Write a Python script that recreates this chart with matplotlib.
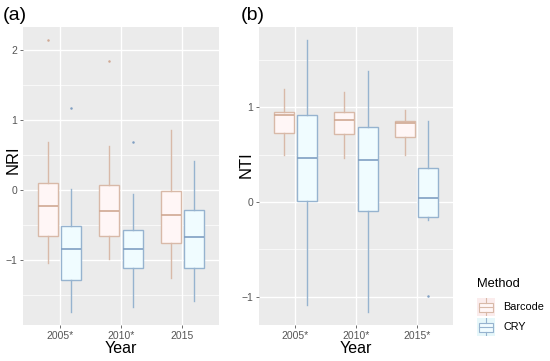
import matplotlib
matplotlib.use("Agg")
import matplotlib.pyplot as plt
from matplotlib.patches import Rectangle
from matplotlib.lines import Line2D

plt.rcParams["font.family"] = ["Liberation Sans", "DejaVu Sans"]

years_a = ["2005*", "2010*", "2015"]
years_b = ["2005*", "2010*", "2015*"]
methods = ["Barcode", "CRY"]

# Panel (a) NRI: [whislo, q1, med, q3, whishi]
nri_barcode = [[-1.05, -0.66, -0.23, 0.10, 0.69],
               [-0.99, -0.66, -0.30, 0.07, 0.63],
               [-1.26, -0.76, -0.36, -0.01, 0.86]]
nri_barcode_out = [[2.14], [1.84], []]
nri_cry = [[-1.74, -1.28, -0.85, -0.51, 0.01],
           [-1.67, -1.12, -0.84, -0.57, -0.06],
           [-1.59, -1.11, -0.67, -0.28, 0.41]]
nri_cry_out = [[1.17], [0.68], []]

# Panel (b) NTI
nti_barcode = [[0.50, 0.73, 0.92, 0.95, 1.19],
               [0.46, 0.72, 0.87, 0.95, 1.16],
               [0.50, 0.69, 0.83, 0.86, 0.97]]
nti_barcode_out = [[], [], []]
nti_cry = [[-1.09, 0.01, 0.46, 0.92, 1.71],
           [-1.16, -0.10, 0.44, 0.79, 1.39],
           [-0.19, -0.16, 0.04, 0.36, 0.86]]
nti_cry_out = [[], [], [-0.99]]

edge_col = {"Barcode": "#D8B9A8", "CRY": "#96B3CF"}
fill_col = {"Barcode": "#FFF6F6", "CRY": "#F0FCFF"}
med_col = {"Barcode": "#D0A993", "CRY": "#809FC2"}
key_bg = {"Barcode": "#FBECEC", "CRY": "#E6F7FA"}

W, H = 550, 361
fig = plt.figure(figsize=(5.5, 3.61), dpi=100)
fig.patch.set_facecolor("white")

def px_axes(x0, y0, x1, y1):
    return fig.add_axes([x0 / W, 1 - y1 / H, (x1 - x0) / W, (y1 - y0) / H])

def make_stats(rows, outs):
    st = []
    for r, o in zip(rows, outs):
        st.append(dict(whislo=r[0], q1=r[1], med=r[2], q3=r[3], whishi=r[4], fliers=o))
    return st

def panel(ax, labels, series, ylim, yticks, minor, ylabel, lab_xy):
    ax.set_facecolor("#EBEBEB")
    for s in ax.spines.values():
        s.set_visible(False)
    for m in minor:
        ax.axhline(m, color="white", lw=0.5, zorder=0)
    for t in yticks:
        ax.axhline(t, color="white", lw=1.0, zorder=0)
    for i in range(len(labels)):
        ax.axvline(i + 1, color="white", lw=1.0, zorder=0)
    offs = {"Barcode": -0.19, "CRY": 0.19}
    for meth, rows, outs in series:
        pos = [i + 1 + offs[meth] for i in range(len(labels))]
        ax.bxp(make_stats(rows, outs), positions=pos, widths=0.33, patch_artist=True,
               showcaps=False,
               boxprops=dict(facecolor=fill_col[meth], edgecolor=edge_col[meth], lw=1.0),
               whiskerprops=dict(color=edge_col[meth], lw=1.0),
               medianprops=dict(color=med_col[meth], lw=1.2),
               flierprops=dict(marker="o", markersize=1.8, markerfacecolor=med_col[meth],
                               markeredgecolor="none"),
               manage_ticks=False, zorder=2)
    ax.set_xlim(0.4, len(labels) + 0.6)
    ax.set_ylim(*ylim)
    ax.set_xticks(range(1, len(labels) + 1))
    ax.set_xticklabels(labels)
    ax.set_yticks(yticks)
    ax.set_yticklabels([str(t).replace("-", "\u2212") for t in yticks])
    ax.tick_params(axis="both", colors="#555555", labelcolor="#555555", labelsize=7.5,
                   length=2.5, width=0.6, pad=1.5)
    ax.set_xlabel("Year", fontsize=11.5, labelpad=0)
    ax.set_ylabel(ylabel, fontsize=12)
    ax.yaxis.set_label_coords(*lab_xy)
    ax.yaxis.label.set_va("center")
    return ax

ax1 = px_axes(23, 27, 219, 325)
panel(ax1, years_a,
      [("Barcode", nri_barcode, nri_barcode_out), ("CRY", nri_cry, nri_cry_out)],
      (-1.93, 2.33), [-1, 0, 1, 2], [-1.5, -0.5, 0.5, 1.5], "NRI", (-0.051, 0.555))

ax2 = px_axes(259, 27, 453, 325)
panel(ax2, years_b,
      [("Barcode", nti_barcode, nti_barcode_out), ("CRY", nti_cry, nti_cry_out)],
      (-1.30, 1.85), [-1, 0, 1], [-0.5, 0.5, 1.5], "NTI", (-0.067, 0.537))

fig.text(3 / W, 1 - 16 / H, "(a)", fontsize=14, va="center", ha="left")
fig.text(241 / W, 1 - 16 / H, "(b)", fontsize=14, va="center", ha="left")

# Legend
fig.text(477 / W, 1 - 284 / H, "Method", fontsize=9.3, va="center", ha="left")
for i, meth in enumerate(methods):
    cy = 307 + i * 20
    kax = px_axes(477, cy - 9, 495, cy + 9)
    kax.set_xlim(0, 1)
    kax.set_ylim(0, 1)
    kax.axis("off")
    kax.add_patch(Rectangle((0, 0), 1, 1, facecolor=key_bg[meth], edgecolor="none"))
    kax.add_line(Line2D([0.5, 0.5], [0.0, 0.25], color=edge_col[meth], lw=0.8))
    kax.add_line(Line2D([0.5, 0.5], [0.75, 1.0], color=edge_col[meth], lw=0.8))
    kax.add_patch(Rectangle((0.1, 0.25), 0.8, 0.5, facecolor=fill_col[meth],
                            edgecolor=edge_col[meth], lw=0.8))
    kax.add_line(Line2D([0.1, 0.9], [0.5, 0.5], color=edge_col[meth], lw=0.8))
    fig.text(503 / W, 1 - cy / H, meth, fontsize=7.8, va="center", ha="left")

fig.savefig("out.png", dpi=100)
